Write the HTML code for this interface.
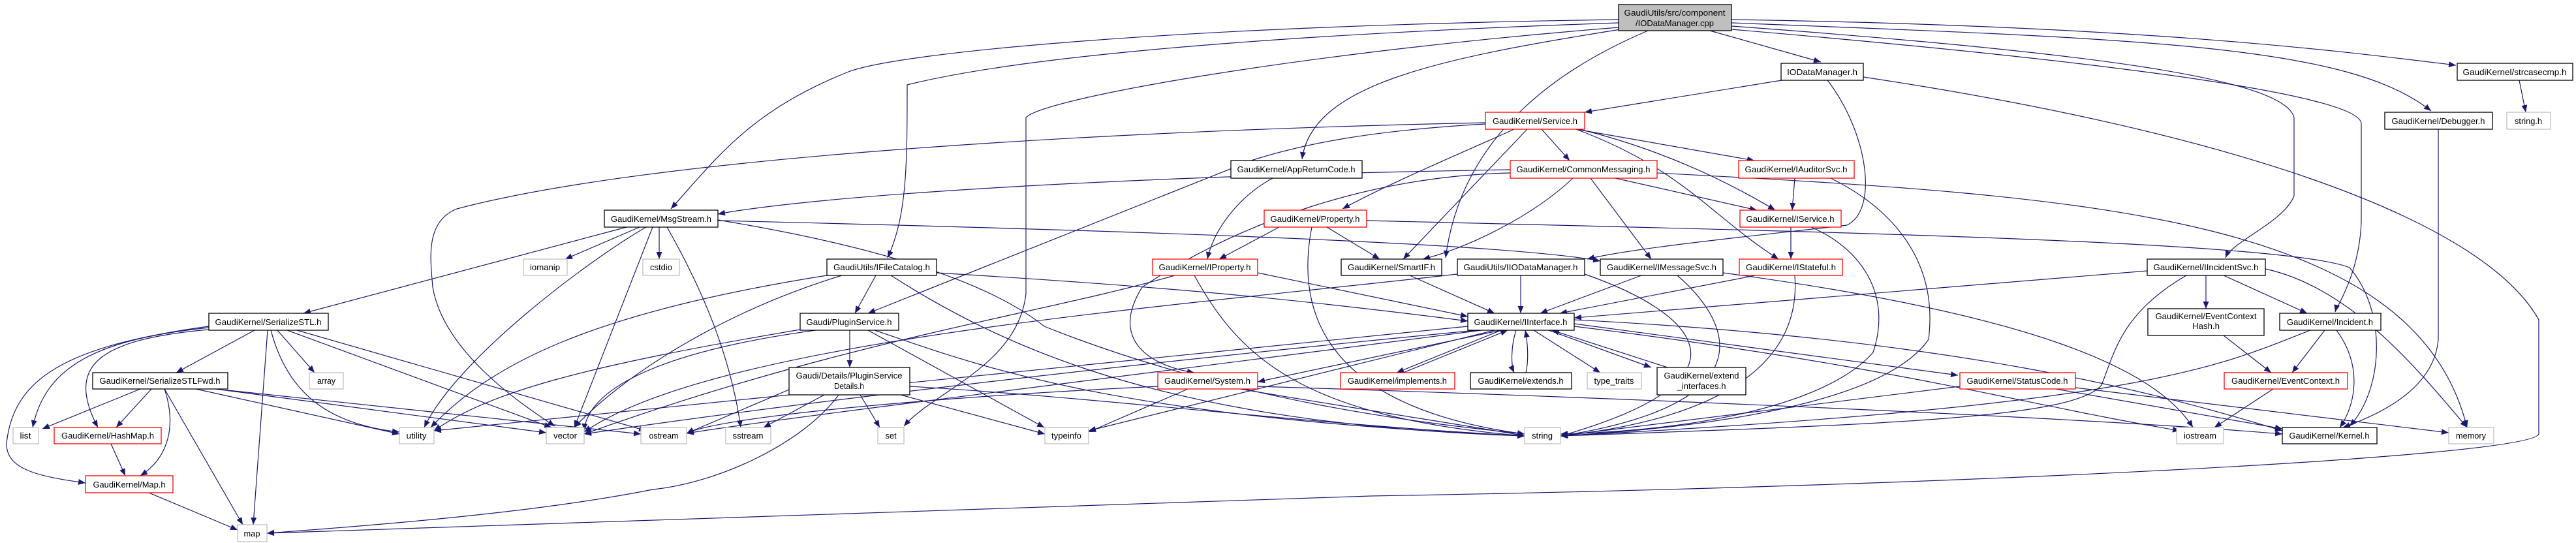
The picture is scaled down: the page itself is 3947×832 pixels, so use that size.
<!DOCTYPE html>
<html><head><meta charset="utf-8"><style>
html,body{margin:0;padding:0;background:#fff;}
svg{display:block}
text{font-family:"Liberation Sans",Arial,sans-serif;font-size:13px;fill:#000}
.e{fill:none;stroke:#191970;stroke-width:1.2}
</style></head><body>
<svg width="3947" height="832" viewBox="0 0 3947 832" xmlns="http://www.w3.org/2000/svg">
<defs><marker id="a" markerUnits="userSpaceOnUse" markerWidth="12" markerHeight="9" refX="11" refY="4.5" orient="auto"><path d="M0,0 L11,4.5 L0,9 z" fill="#191970"/></marker></defs>
<g class="e" marker-end="url(#a)">
<path d="M2525,47 C2400,100 2240,200 2215,395"/>
<path d="M2620,47 L2790,95"/>
<path d="M2480,30 C1800,40 1380,80 1300,110 C1150,170 1100,240 1028,320"/>
<path d="M2480,35 C1900,55 1550,90 1390,130 C1390,250 1390,330 1360,395"/>
<path d="M2480,42 C2000,80 1600,150 1572,180 L1572,450 C1560,560 1430,600 1385,653"/>
<path d="M2483,45 C2200,90 2010,130 1995,244"/>
<path d="M2653,30 C3300,40 3600,80 3763,100"/>
<path d="M2653,35 C3300,60 3600,70 3725,170"/>
<path d="M2653,40 C3200,80 3500,120 3515,180 L3515,300 C3500,340 3420,370 3410,395"/>
<path d="M2653,45 C3300,100 3620,150 3618,190 L3618,340 C3615,420 3580,470 3578,478"/>
<path d="M2730,123 L2428,172"/>
<path d="M2800,123 C2860,200 2880,320 2830,345 C2700,360 2500,380 2432,397"/>
<path d="M2855,118 C3400,200 3800,330 3890,490 L3890,665 C3880,700 3000,745 2100,760 L409,817"/>
<path d="M3860,123 L3870,172"/>
<path d="M3736,198 L3736,520 C3730,590 3660,630 3590,655"/>
<path d="M2362,198 L2405,246"/>
<path d="M2415,198 L2688,246"/>
<path d="M2420,198 C2550,230 2650,280 2720,322"/>
<path d="M2415,198 C2580,260 2620,330 2725,397"/>
<path d="M2340,198 L2150,397"/>
<path d="M2320,198 C2250,230 2130,280 2057,320"/>
<path d="M2276,190 C2100,200 2000,220 1920,245 L1330,480"/>
<path d="M2276,188 C1700,200 1000,240 700,320 C650,340 660,400 663,440 C680,540 800,620 850,653"/>
<path d="M2314,260 C1700,270 1250,300 1100,328"/>
<path d="M2410,273 C2350,330 2250,380 2180,397"/>
<path d="M2437,273 L2530,397"/>
<path d="M2475,273 L2692,322"/>
<path d="M2539,265 C3200,300 3700,330 3780,655"/>
<path d="M2314,265 C2100,270 1900,340 1750,440 C1700,520 1760,560 1830,571"/>
<path d="M2750,273 L2746,322"/>
<path d="M2805,273 C2900,320 2970,400 2955,520 C2900,600 2700,650 2391,668"/>
<path d="M2744,348 L2744,397"/>
<path d="M2775,348 C2850,380 2900,450 2870,540 C2800,620 2600,660 2391,665"/>
<path d="M2033,348 L2114,397"/>
<path d="M2094,338 C2800,355 3500,370 3600,410 C3660,480 3650,600 3600,653"/>
<path d="M2010,348 C1990,450 2000,620 2336,665"/>
<path d="M1960,348 L1868,397"/>
<path d="M1950,273 C1900,300 1860,350 1850,397"/>
<path d="M1010,348 L1010,397"/>
<path d="M980,348 L866,397"/>
<path d="M960,348 L465,480"/>
<path d="M1022,348 C1080,450 1120,550 1135,655"/>
<path d="M1000,348 L880,655"/>
<path d="M990,348 C900,400 700,550 650,655"/>
<path d="M1100,338 C1600,350 2300,370 2452,400"/>
<path d="M1100,337 C1300,370 1500,420 1600,500 C1900,620 2200,650 2336,665"/>
<path d="M390,506 L270,571"/>
<path d="M425,506 L482,571"/>
<path d="M410,506 L388,804"/>
<path d="M415,506 C440,600 500,650 612,662"/>
<path d="M440,506 L845,655"/>
<path d="M455,506 L990,660"/>
<path d="M320,502 C150,520 70,560 50,655"/>
<path d="M320,505 C150,520 100,560 150,655"/>
<path d="M320,500 C100,530 20,580 10,680 C10,720 60,730 131,740"/>
<path d="M215,596 L65,657"/>
<path d="M232,596 L178,655"/>
<path d="M252,596 C270,650 260,700 215,729"/>
<path d="M252,596 L372,804"/>
<path d="M300,596 L612,665"/>
<path d="M330,596 L837,663"/>
<path d="M349,598 L982,665"/>
<path d="M170,680 L192,729"/>
<path d="M228,755 L364,812"/>
<path d="M1342,422 L1310,480"/>
<path d="M1267,422 C900,480 750,560 660,655"/>
<path d="M1290,422 C1100,480 950,580 880,655"/>
<path d="M1365,422 C1550,540 1800,650 2336,668"/>
<path d="M1435,418 C1800,440 2000,460 2249,492"/>
<path d="M1302,506 L1302,563"/>
<path d="M1226,505 C900,560 750,600 665,660"/>
<path d="M1330,506 L1600,655"/>
<path d="M1340,506 C1500,560 1700,640 2336,668"/>
<path d="M1250,506 C1000,540 900,600 895,660"/>
<path d="M1263,605 L1170,655"/>
<path d="M1318,605 L1348,655"/>
<path d="M1380,605 L1601,665"/>
<path d="M1394,592 C1700,610 2000,650 2336,668"/>
<path d="M1209,597 L1052,664"/>
<path d="M1285,605 C1230,680 1100,740 1000,750 C800,790 500,810 409,817"/>
<path d="M1800,422 C1600,480 1300,520 895,665"/>
<path d="M1830,422 C1900,550 2000,640 2336,668"/>
<path d="M1927,418 L2249,485"/>
<path d="M1820,596 L1668,662"/>
<path d="M1774,592 C1400,610 1100,640 1052,664"/>
<path d="M1900,596 C2100,630 2300,660 2336,668"/>
<path d="M1927,592 C2500,610 3200,640 3497,665"/>
<path d="M2160,422 L2290,480"/>
<path d="M2330,422 L2330,480"/>
<path d="M2428,420 C2600,480 2700,580 2391,668"/>
<path d="M2233,420 C1800,470 1100,520 895,662"/>
<path d="M2515,422 L2360,480"/>
<path d="M2570,422 C2660,500 2700,620 2391,668"/>
<path d="M2640,418 C3100,480 3300,560 3360,655"/>
<path d="M2690,422 L2390,480"/>
<path d="M2750,422 C2760,550 2650,640 2391,668"/>
<path d="M2300,506 L2140,571"/>
<path d="M2150,571 L2310,506"/>
<path d="M2323,506 C2315,530 2315,560 2320,571"/>
<path d="M2338,571 C2343,550 2340,520 2337,506"/>
<path d="M2350,506 L2452,571"/>
<path d="M2373,506 L2530,563"/>
<path d="M2555,563 L2378,506"/>
<path d="M2412,496 L3000,575"/>
<path d="M2412,490 C3000,520 3300,600 3497,660"/>
<path d="M2263,506 C1700,560 1200,620 895,665"/>
<path d="M2270,506 C1700,580 1200,640 1052,664"/>
<path d="M2412,500 C2900,560 3100,620 3340,660"/>
<path d="M2290,506 L1668,660"/>
<path d="M2300,506 L1927,585"/>
<path d="M2249,500 L665,660"/>
<path d="M3380,422 L3380,473"/>
<path d="M3407,422 L3535,480"/>
<path d="M3350,422 C3250,480 3240,540 3220,590 C3180,640 2900,650 2391,668"/>
<path d="M3290,415 L2412,487"/>
<path d="M3471,412 C3600,440 3700,560 3780,655"/>
<path d="M3407,514 L3480,571"/>
<path d="M3562,506 L3512,571"/>
<path d="M3580,506 C3620,560 3610,620 3585,655"/>
<path d="M3540,506 C3400,560 3300,620 2391,668"/>
<path d="M3483,596 L3393,655"/>
<path d="M3150,596 L3497,657"/>
<path d="M3180,594 L3752,663"/>
<path d="M3003,592 L2391,668"/>
</g>
<g stroke-width="1.3">
<!-- nodes: x,y,w,h -->
<rect x="2480" y="7" width="173" height="40" fill="#bfbfbf" stroke="#000"/>
<text x="2566" y="24" text-anchor="middle" textLength="155" lengthAdjust="spacingAndGlyphs">GaudiUtils/src/component</text>
<text x="2566" y="40" text-anchor="middle" textLength="120" lengthAdjust="spacingAndGlyphs">/IODataManager.cpp</text>
</g>
<g fill="#fff" stroke-width="1.3">
<rect x="2729" y="97" width="126" height="26" stroke="#000"/>
<rect x="3765" y="97" width="177" height="26" stroke="#000"/>
<rect x="3654" y="172" width="165" height="26" stroke="#000"/>
<rect x="3841" y="172" width="67" height="26" stroke="#bfbfbf"/>
<rect x="2276" y="172" width="152" height="26" stroke="#f00"/>
<rect x="1886" y="246" width="201" height="27" stroke="#000"/>
<rect x="2314" y="246" width="225" height="27" stroke="#f00"/>
<rect x="2664" y="246" width="177" height="27" stroke="#f00"/>
<rect x="926" y="322" width="174" height="26" stroke="#000"/>
<rect x="1937" y="322" width="157" height="26" stroke="#f00"/>
<rect x="2666" y="322" width="155" height="26" stroke="#f00"/>
<rect x="802" y="397" width="67" height="25" stroke="#bfbfbf"/>
<rect x="985" y="397" width="56" height="25" stroke="#bfbfbf"/>
<rect x="1267" y="397" width="168" height="25" stroke="#000"/>
<rect x="1766" y="397" width="161" height="25" stroke="#f00"/>
<rect x="2055" y="397" width="154" height="25" stroke="#000"/>
<rect x="2233" y="397" width="195" height="25" stroke="#000"/>
<rect x="2452" y="397" width="188" height="25" stroke="#000"/>
<rect x="2665" y="397" width="158" height="25" stroke="#f00"/>
<rect x="3290" y="397" width="181" height="25" stroke="#000"/>
<rect x="320" y="480" width="183" height="26" stroke="#000"/>
<rect x="1226" y="480" width="151" height="26" stroke="#000"/>
<rect x="2249" y="480" width="163" height="26" stroke="#000"/>
<rect x="3291" y="473" width="178" height="41" stroke="#000"/>
<rect x="3493" y="480" width="155" height="26" stroke="#000"/>
<rect x="142" y="571" width="207" height="25" stroke="#000"/>
<rect x="474" y="571" width="52" height="25" stroke="#bfbfbf"/>
<rect x="1209" y="563" width="185" height="42" stroke="#000"/>
<rect x="1774" y="571" width="153" height="25" stroke="#f00"/>
<rect x="2054" y="571" width="175" height="25" stroke="#f00"/>
<rect x="2253" y="571" width="155" height="25" stroke="#000"/>
<rect x="2432" y="571" width="83" height="25" stroke="#bfbfbf"/>
<rect x="2539" y="563" width="136" height="42" stroke="#000"/>
<rect x="3003" y="571" width="177" height="25" stroke="#f00"/>
<rect x="3408" y="571" width="189" height="25" stroke="#f00"/>
<rect x="20" y="655" width="39" height="25" stroke="#bfbfbf"/>
<rect x="83" y="655" width="164" height="25" stroke="#f00"/>
<rect x="612" y="655" width="53" height="25" stroke="#bfbfbf"/>
<rect x="837" y="655" width="58" height="25" stroke="#bfbfbf"/>
<rect x="982" y="655" width="70" height="25" stroke="#bfbfbf"/>
<rect x="1112" y="655" width="69" height="25" stroke="#bfbfbf"/>
<rect x="1345" y="655" width="40" height="25" stroke="#bfbfbf"/>
<rect x="1601" y="655" width="67" height="25" stroke="#bfbfbf"/>
<rect x="2336" y="655" width="55" height="25" stroke="#bfbfbf"/>
<rect x="3335" y="655" width="72" height="25" stroke="#bfbfbf"/>
<rect x="3497" y="655" width="145" height="25" stroke="#000"/>
<rect x="3752" y="655" width="69" height="25" stroke="#bfbfbf"/>
<rect x="131" y="729" width="134" height="26" stroke="#f00"/>
<rect x="364" y="804" width="45" height="26" stroke="#bfbfbf"/>
</g>
<g text-anchor="middle" lengthAdjust="spacingAndGlyphs">
<text x="2792" y="115" textLength="108" lengthAdjust="spacingAndGlyphs">IODataManager.h</text>
<text x="3853" y="115" textLength="159" lengthAdjust="spacingAndGlyphs">GaudiKernel/strcasecmp.h</text>
<text x="3736" y="190" textLength="143" lengthAdjust="spacingAndGlyphs">GaudiKernel/Debugger.h</text>
<text x="3874" y="190" textLength="42" lengthAdjust="spacingAndGlyphs">string.h</text>
<text x="2352" y="190" textLength="130" lengthAdjust="spacingAndGlyphs">GaudiKernel/Service.h</text>
<text x="1986" y="264" textLength="181" lengthAdjust="spacingAndGlyphs">GaudiKernel/AppReturnCode.h</text>
<text x="2426" y="264" textLength="205" lengthAdjust="spacingAndGlyphs">GaudiKernel/CommonMessaging.h</text>
<text x="2752" y="264" textLength="157" lengthAdjust="spacingAndGlyphs">GaudiKernel/IAuditorSvc.h</text>
<text x="1013" y="340" textLength="154" lengthAdjust="spacingAndGlyphs">GaudiKernel/MsgStream.h</text>
<text x="2015" y="340" textLength="137" lengthAdjust="spacingAndGlyphs">GaudiKernel/Property.h</text>
<text x="2743" y="340" textLength="135" lengthAdjust="spacingAndGlyphs">GaudiKernel/IService.h</text>
<text x="835" y="414" textLength="46" lengthAdjust="spacingAndGlyphs">iomanip</text>
<text x="1013" y="414" textLength="34" lengthAdjust="spacingAndGlyphs">cstdio</text>
<text x="1351" y="414" textLength="148" lengthAdjust="spacingAndGlyphs">GaudiUtils/IFileCatalog.h</text>
<text x="1846" y="414" textLength="141" lengthAdjust="spacingAndGlyphs">GaudiKernel/IProperty.h</text>
<text x="2132" y="414" textLength="134" lengthAdjust="spacingAndGlyphs">GaudiKernel/SmartIF.h</text>
<text x="2330" y="414" textLength="175" lengthAdjust="spacingAndGlyphs">GaudiUtils/IIODataManager.h</text>
<text x="2546" y="414" textLength="168" lengthAdjust="spacingAndGlyphs">GaudiKernel/IMessageSvc.h</text>
<text x="2744" y="414" textLength="138" lengthAdjust="spacingAndGlyphs">GaudiKernel/IStateful.h</text>
<text x="3380" y="414" textLength="161" lengthAdjust="spacingAndGlyphs">GaudiKernel/IIncidentSvc.h</text>
<text x="411" y="498" textLength="163" lengthAdjust="spacingAndGlyphs">GaudiKernel/SerializeSTL.h</text>
<text x="1301" y="498" textLength="131" lengthAdjust="spacingAndGlyphs">Gaudi/PluginService.h</text>
<text x="2330" y="498" textLength="143" lengthAdjust="spacingAndGlyphs">GaudiKernel/IInterface.h</text>
<text x="3380" y="489" textLength="155" lengthAdjust="spacingAndGlyphs">GaudiKernel/EventContext</text>
<text x="3380" y="504" textLength="42" lengthAdjust="spacingAndGlyphs">Hash.h</text>
<text x="3570" y="498" textLength="132" lengthAdjust="spacingAndGlyphs">GaudiKernel/Incident.h</text>
<text x="245" y="588" textLength="185" lengthAdjust="spacingAndGlyphs">GaudiKernel/SerializeSTLFwd.h</text>
<text x="500" y="588" textLength="28" lengthAdjust="spacingAndGlyphs">array</text>
<text x="1301" y="580" textLength="163" lengthAdjust="spacingAndGlyphs">Gaudi/Details/PluginService</text>
<text x="1301" y="596" textLength="46" lengthAdjust="spacingAndGlyphs">Details.h</text>
<text x="1850" y="588" textLength="132" lengthAdjust="spacingAndGlyphs">GaudiKernel/System.h</text>
<text x="2141" y="588" textLength="152" lengthAdjust="spacingAndGlyphs">GaudiKernel/implements.h</text>
<text x="2330" y="588" textLength="131" lengthAdjust="spacingAndGlyphs">GaudiKernel/extends.h</text>
<text x="2473" y="588" textLength="61" lengthAdjust="spacingAndGlyphs">type_traits</text>
<text x="2607" y="580" textLength="115" lengthAdjust="spacingAndGlyphs">GaudiKernel/extend</text>
<text x="2607" y="596" textLength="75" lengthAdjust="spacingAndGlyphs">_interfaces.h</text>
<text x="3091" y="588" textLength="155" lengthAdjust="spacingAndGlyphs">GaudiKernel/StatusCode.h</text>
<text x="3502" y="588" textLength="166" lengthAdjust="spacingAndGlyphs">GaudiKernel/EventContext.h</text>
<text x="39" y="672" textLength="17" lengthAdjust="spacingAndGlyphs">list</text>
<text x="165" y="672" textLength="142" lengthAdjust="spacingAndGlyphs">GaudiKernel/HashMap.h</text>
<text x="638" y="672" textLength="31" lengthAdjust="spacingAndGlyphs">utility</text>
<text x="866" y="672" textLength="36" lengthAdjust="spacingAndGlyphs">vector</text>
<text x="1017" y="672" textLength="45" lengthAdjust="spacingAndGlyphs">ostream</text>
<text x="1146" y="672" textLength="47" lengthAdjust="spacingAndGlyphs">sstream</text>
<text x="1365" y="672" textLength="17" lengthAdjust="spacingAndGlyphs">set</text>
<text x="1634" y="672" textLength="46" lengthAdjust="spacingAndGlyphs">typeinfo</text>
<text x="2363" y="672" textLength="32" lengthAdjust="spacingAndGlyphs">string</text>
<text x="3371" y="672" textLength="50" lengthAdjust="spacingAndGlyphs">iostream</text>
<text x="3569" y="672" textLength="123" lengthAdjust="spacingAndGlyphs">GaudiKernel/Kernel.h</text>
<text x="3786" y="672" textLength="46" lengthAdjust="spacingAndGlyphs">memory</text>
<text x="198" y="747" textLength="111" lengthAdjust="spacingAndGlyphs">GaudiKernel/Map.h</text>
<text x="386" y="822" textLength="25" lengthAdjust="spacingAndGlyphs">map</text>
</g>
</svg>
</body></html>
